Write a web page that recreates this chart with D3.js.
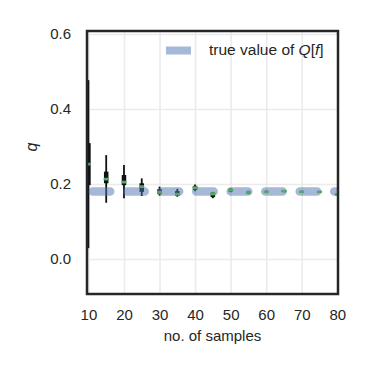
<!doctype html>
<html>
  <head>
    <meta charset="utf-8">
    <title>q vs no. of samples</title>
    <script src="https://cdnjs.cloudflare.com/ajax/libs/d3/7.8.5/d3.min.js"></script>
    <style>
      body { margin: 0; background: #fff; }
      text { font-family: "Liberation Sans", Arial, sans-serif; fill: #262626; }
    </style>
  </head>
  <body>
    <div id="root"></div>
    <script>
      // values
      let nSamples  = [10, 15, 20, 25, 30, 35, 40, 45, 50, 55, 60, 65, 70, 75, 80];
      let whiskerLo = [0.029, 0.150, 0.162, 0.168, 0.169, 0.166, 0.181, 0.162, 0.178, 0.173, 0.176, 0.178, 0.176, 0.176, 0.169];
      let whiskerHi = [0.477, 0.277, 0.251, 0.215, 0.193, 0.187, 0.199, 0.179, 0.189, 0.182, 0.183, 0.184, 0.182, 0.181, 0.175];
      let boxLo     = [0.197, 0.202, 0.197, 0.179, 0.173, 0.169, 0.184, 0.165, 0.180, 0.175, 0.177, 0.179, 0.177, 0.177, 0.170];
      let boxHi     = [0.309, 0.233, 0.224, 0.202, 0.186, 0.181, 0.195, 0.177, 0.187, 0.180, 0.181, 0.183, 0.181, 0.180, 0.174];
      let medians   = [0.253, 0.213, 0.205, 0.193, 0.178, 0.173, 0.190, 0.174, 0.184, 0.178, 0.179, 0.181, 0.179, 0.179, 0.172];
      let trueValue = 0.180;
      let xTicks = [10, 20, 30, 40, 50, 60, 70, 80];
      let yTicks = [0.0, 0.2, 0.4, 0.6];

      let W = 373, H = 373,
        pLeft = 87, pRight = 338, pTop = 31, pBottom = 294;

      let svg = d3.select('#root')
        .append('svg')
        .attr('width', W)
        .attr('height', H);

      let xScale = d3.scaleLinear().domain([9.6, 80.2]).range([pLeft, pRight]);
      let yScale = d3.scaleLinear().domain([-0.0933, 0.608]).range([pBottom, pTop]);

      svg.append('clipPath').attr('id', 'plotclip')
        .append('rect')
        .attr('x', pLeft).attr('y', pTop)
        .attr('width', pRight - pLeft).attr('height', pBottom - pTop);

      // grid lines
      svg.append('g')
        .attr('transform', 'translate(0,' + pBottom + ')')
        .call(d3.axisBottom(xScale).tickValues(xTicks).tickSize(-(pBottom - pTop)).tickFormat(''))
        .call(g => g.select('.domain').remove())
        .call(g => g.selectAll('line').attr('stroke', '#ebebeb').attr('stroke-width', 1.6));
      svg.append('g')
        .attr('transform', 'translate(' + pLeft + ',0)')
        .call(d3.axisLeft(yScale).tickValues(yTicks).tickSize(-(pRight - pLeft)).tickFormat(''))
        .call(g => g.select('.domain').remove())
        .call(g => g.selectAll('line').attr('stroke', '#ebebeb').attr('stroke-width', 1.6));

      let plot = svg.append('g').attr('clip-path', 'url(#plotclip)');

      // whiskers
      plot.selectAll('.whisker')
        .data(nSamples)
        .enter()
        .append('line')
        .attr('class', 'whisker')
        .attr('x1', d => xScale(d)).attr('x2', d => xScale(d))
        .attr('y1', (d, i) => yScale(whiskerLo[i]))
        .attr('y2', (d, i) => yScale(whiskerHi[i]))
        .attr('stroke', '#111')
        .attr('stroke-width', 1.8);

      // thick inner bars
      plot.selectAll('.box')
        .data(nSamples)
        .enter()
        .append('line')
        .attr('class', 'box')
        .attr('x1', d => xScale(d)).attr('x2', d => xScale(d))
        .attr('y1', (d, i) => yScale(boxLo[i]))
        .attr('y2', (d, i) => yScale(boxHi[i]))
        .attr('stroke', '#111')
        .attr('stroke-width', 4.5);

      // true value band (dashed, round caps)
      let period = 34.5, dashLen = 17.3;
      plot.append('line')
        .attr('x1', pLeft).attr('x2', pRight)
        .attr('y1', yScale(trueValue)).attr('y2', yScale(trueValue))
        .attr('stroke', '#4c72b0')
        .attr('stroke-opacity', 0.5)
        .attr('stroke-width', 8.7)
        .attr('stroke-linecap', 'round')
        .attr('stroke-dasharray', dashLen + ',' + (period - dashLen))
        .attr('stroke-dashoffset', period - 5.8);

      // medians
      plot.selectAll('.median')
        .data(nSamples)
        .enter()
        .append('rect')
        .attr('class', 'median')
        .attr('x', d => xScale(d) - 2.6)
        .attr('y', (d, i) => yScale(medians[i]) - 1.4)
        .attr('width', 5.2)
        .attr('height', 2.8)
        .attr('rx', 1.2)
        .attr('fill', '#55a868');

      // frame
      svg.append('rect')
        .attr('x', pLeft).attr('y', pTop)
        .attr('width', pRight - pLeft).attr('height', pBottom - pTop)
        .attr('fill', 'none')
        .attr('stroke', '#262626')
        .attr('stroke-width', 2.5);

      // tick labels
      svg.append('g')
        .attr('transform', 'translate(0,' + pBottom + ')')
        .call(d3.axisBottom(xScale).tickValues(xTicks).tickSize(0).tickPadding(15))
        .call(g => g.select('.domain').remove())
        .call(g => g.selectAll('text').attr('font-size', 15).attr('font-family', null));
      svg.append('g')
        .attr('transform', 'translate(' + pLeft + ',0)')
        .call(d3.axisLeft(yScale).tickValues(yTicks).tickSize(0).tickPadding(16).tickFormat(d3.format('.1f')))
        .call(g => g.select('.domain').remove())
        .call(g => g.selectAll('text').attr('font-size', 15).attr('font-family', null));

      // axis labels
      svg.append('text')
        .attr('x', (pLeft + pRight) / 2)
        .attr('y', 341)
        .attr('text-anchor', 'middle')
        .attr('font-size', 15)
        .text('no. of samples');
      svg.append('text')
        .attr('transform', 'translate(37,147) rotate(-90)')
        .attr('text-anchor', 'middle')
        .attr('font-size', 16)
        .attr('font-style', 'italic')
        .text('q');

      // legend
      svg.append('rect')
        .attr('x', 166).attr('y', 46.5)
        .attr('width', 25).attr('height', 8)
        .attr('fill', '#4c72b0')
        .attr('fill-opacity', 0.5);
      let leg = svg.append('text')
        .attr('x', 209).attr('y', 55)
        .attr('font-size', 15.5);
      leg.append('tspan').text('true value of ');
      leg.append('tspan').attr('font-style', 'italic').text('Q');
      leg.append('tspan').text('[');
      leg.append('tspan').attr('font-style', 'italic').text('f');
      leg.append('tspan').text(']');
    </script>
  </body>
</html>
